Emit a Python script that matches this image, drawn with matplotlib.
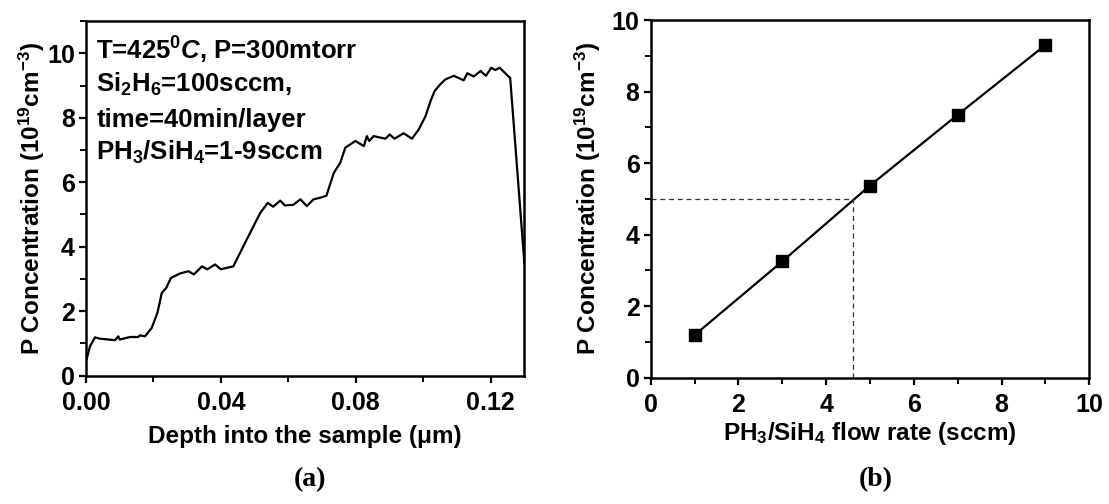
import matplotlib
matplotlib.use("Agg")
import matplotlib.pyplot as plt
from matplotlib.ticker import MultipleLocator, FormatStrFormatter

# (a) SIMS depth profile
depth = [0.0000, 0.0012, 0.0027, 0.0040, 0.0086, 0.0096, 0.0100, 0.0131, 0.0155,
         0.0160, 0.0175, 0.0195, 0.0212, 0.0225, 0.0238, 0.0252, 0.0279, 0.0304,
         0.0320, 0.0344, 0.0360, 0.0383, 0.0400, 0.0420, 0.0437, 0.0467, 0.0497,
         0.0517, 0.0539, 0.0555, 0.0576, 0.0590, 0.0615, 0.0636, 0.0655, 0.0675,
         0.0695, 0.0713, 0.0735, 0.0754, 0.0769, 0.0799, 0.0824, 0.0833, 0.0840,
         0.0853, 0.0888, 0.0901, 0.0915, 0.0942, 0.0967, 0.0987, 0.1007, 0.1022,
         0.1034, 0.1051, 0.1066, 0.1091, 0.1120, 0.1131, 0.1150, 0.1170, 0.1186,
         0.1202, 0.1214, 0.1227, 0.1254, 0.1258, 0.1300]
conc = [0.44, 0.91, 1.19, 1.15, 1.10, 1.22, 1.12, 1.20, 1.20,
        1.25, 1.22, 1.48, 1.95, 2.57, 2.72, 3.03, 3.17, 3.24,
        3.14, 3.39, 3.30, 3.45, 3.30, 3.35, 3.39, 4.02, 4.64,
        5.05, 5.36, 5.24, 5.43, 5.28, 5.30, 5.47, 5.26, 5.47,
        5.52, 5.58, 6.29, 6.60, 7.07, 7.28, 7.12, 7.43, 7.28,
        7.43, 7.35, 7.48, 7.35, 7.52, 7.35, 7.64, 8.05, 8.52,
        8.83, 9.04, 9.19, 9.30, 9.16, 9.38, 9.28, 9.45, 9.30,
        9.55, 9.48, 9.55, 9.27, 9.24, 3.50]

# (b) concentration vs flow rate
flow = [1, 3, 5, 7, 9]
flow_conc = [1.19, 3.25, 5.37, 7.35, 9.30]
target_conc = 5.0
target_flow = 4.62

plt.rcParams['font.family'] = 'Liberation Sans'
plt.rcParams['font.weight'] = 'bold'
plt.rcParams['mathtext.fontset'] = 'custom'
plt.rcParams['mathtext.rm'] = 'Liberation Sans:bold'
plt.rcParams['mathtext.bf'] = 'Liberation Sans:bold'
plt.rcParams['mathtext.it'] = 'Liberation Sans:bold:italic'
plt.rcParams['mathtext.default'] = 'rm'

fig = plt.figure(figsize=(11.09, 5.04), dpi=100)
ax1 = fig.add_axes([0.0775, 0.2546, 0.3953, 0.7037])
ax2 = fig.add_axes([0.5867, 0.2506, 0.3955, 0.7097])

ylab = 'P Concentration (10$^{19}$cm$^{-3}$)'

ax1.plot(depth, conc, color='black', lw=1.6)
ax1.set_xlim(0, 0.13)
ax1.set_ylim(0, 11)
ax1.xaxis.set_major_locator(MultipleLocator(0.04))
ax1.xaxis.set_minor_locator(MultipleLocator(0.02))
ax1.xaxis.set_major_formatter(FormatStrFormatter('%.2f'))
ax1.yaxis.set_major_locator(MultipleLocator(2))
ax1.yaxis.set_minor_locator(MultipleLocator(1))
ax1.set_xlabel('Depth into the sample (\u03bcm)', fontsize=17.5, fontweight='bold',
               labelpad=7)
ax1.set_ylabel(ylab, fontsize=17.5, fontweight='bold', labelpad=0)

lines = ['T=425$^0$$\\mathit{C}$, P=300mtorr',
         'Si$_2$H$_6$=100sccm,',
         'time=40min/layer',
         'PH$_3$/SiH$_4$=1-9sccm']
base_y = [60, 92, 127, 160]
for txt, py in zip(lines, base_y):
    fig.text(96.5 / 1109, 1 - py / 504, txt, fontsize=18.5, fontweight='bold',
             va='baseline', ha='left')

ax2.plot(flow, flow_conc, color='black', lw=1.6, marker='s', ms=9,
         mfc='black', mec='black')
ax2.plot([0, target_flow], [target_conc, target_conc], color='#333333',
         lw=0.9, dashes=(4, 3))
ax2.plot([target_flow, target_flow], [0, target_conc], color='#333333',
         lw=0.9, dashes=(4, 3))
ax2.set_xlim(0, 10)
ax2.set_ylim(0, 10)
ax2.xaxis.set_major_locator(MultipleLocator(2))
ax2.xaxis.set_minor_locator(MultipleLocator(1))
ax2.yaxis.set_major_locator(MultipleLocator(2))
ax2.yaxis.set_minor_locator(MultipleLocator(1))
ax2.set_xlabel('PH$_3$/SiH$_4$ flow rate (sccm)', fontsize=17.5, fontweight='bold',
               labelpad=2)
ax2.set_ylabel(ylab, fontsize=17.5, fontweight='bold', labelpad=6)

for ax in (ax1, ax2):
    for s in ax.spines.values():
        s.set_linewidth(1.8)
    ax.tick_params(which='major', direction='out', length=5, width=1.6,
                   labelsize=18, top=False, right=False)
    ax.tick_params(which='minor', direction='out', length=4, width=1.4,
                   top=False, right=False)
    ax.tick_params(axis='x', which='major', pad=6)
    ax.tick_params(axis='y', which='major', pad=3)
    for lab in ax.get_xticklabels() + ax.get_yticklabels():
        lab.set_fontweight('bold')

fig.text(310 / 1109, 1 - 480 / 504, '(a)', fontsize=20, fontweight='bold',
         family='Liberation Serif', ha='center', va='center')
fig.text(876 / 1109, 1 - 480 / 504, '(b)', fontsize=20, fontweight='bold',
         family='Liberation Serif', ha='center', va='center')

fig.savefig('out.png', dpi=100)
